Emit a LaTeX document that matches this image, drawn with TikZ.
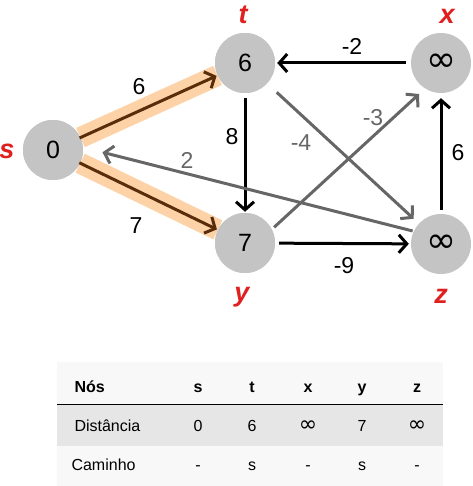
\documentclass[tikz,border=0pt]{standalone}
\usepackage{fontspec}
\setmainfont{Liberation Sans}
\newfontfamily\symfont{DejaVu Sans}
\usetikzlibrary{arrows.meta}
\definecolor{nodegray}{HTML}{C4C4C4}
\definecolor{edgegray}{HTML}{666666}
\definecolor{hl}{HTML}{FDD2A7}
\definecolor{brownarr}{HTML}{5A2D0A}
\definecolor{lblred}{HTML}{E0201E}
\definecolor{rowgray}{HTML}{E6E6E6}
\definecolor{rowlight}{HTML}{F8F8F8}
\tikzset{
  vert/.style={circle,fill=nodegray,minimum size=60pt,inner sep=0pt,font=\fontsize{25}{25}\selectfont},
  inf/.style={font=\symfont\fontsize{36}{36}\selectfont},
  vlabel/.style={text=lblred,font=\fontsize{27}{27}\selectfont\bfseries\itshape},
  arr/.style={line width=3pt,-{Straight Barb[length=8pt,width=18pt,line width=3pt]}},
  blk/.style={arr,black},
  gry/.style={arr,edgegray},
  brn/.style={arr,brownarr},
  hilite/.style={line width=21pt,hl},
  elbl/.style={font=\fontsize{23}{23}\selectfont},
  glbl/.style={elbl,text=edgegray},
  cell/.style={font=\fontsize{16}{16}\selectfont,anchor=base},
  hcell/.style={font=\fontsize{16}{16}\selectfont\bfseries,anchor=base},
  lcell/.style={font=\fontsize{16}{16}\selectfont,anchor=base west},
  tinf/.style={cell,font=\symfont\fontsize{22}{22}\selectfont}
}
\begin{document}
\begin{tikzpicture}[x=1pt,y=-1pt]
\useasboundingbox (0,0) rectangle (472,486);
% vertices
\node[vert] (s) at (53,150) {0};
\node[vert] (t) at (245,63) {6};
\node[vert,inf] (x) at (441,63) {∞};
\node[vert] (y) at (245,243) {7};
\node[vert,inf] (z) at (441,244) {∞};
\node[vlabel] (ls) at (7,151) {s};
\node[vlabel] (lt) at (243,15) {t};
\node[vlabel] (lx) at (447,16) {x};
\node[vlabel] (ly) at (242,297) {y};
\node[vlabel] (lz) at (441,296) {z};
% highlights
\draw[hilite] (s) -- (t);
\draw[hilite] (s) -- (y);
\node[vert] at (s) {0};
\node[vert] at (t) {6};
\node[vert] at (y) {7};
% edges
\draw[brn,shorten <=-1pt,shorten >=1pt] (s) -- (t);
\draw[brn,shorten <=-1pt,shorten >=1pt] (s) -- (y);
\draw[blk,shorten <=5pt,shorten >=1pt] (t) -- (y);
\draw[blk,shorten <=5pt,shorten >=2pt] (x) -- (t);
\draw[blk,shorten <=4pt,shorten >=5pt] (z) -- (x);
\draw[blk,shorten <=4pt,shorten >=2pt] (y) -- (z);
\draw[gry,shorten <=13pt,shorten >=7pt] (t) -- (z);
\draw[gry,shorten <=3pt,shorten >=8pt] (y.27) -- (x.238);
\draw[gry,shorten <=1pt,shorten >=20pt] (z.155) -- (s.5);
% edge labels
\node[elbl] (e1) at (139,87) {6};
\node[elbl] (e2) at (136,226) {7};
\node[elbl] (e3) at (232,137) {8};
\node[elbl] (e4) at (352,46) {-2};
\node[elbl] (e5) at (458,153) {6};
\node[elbl] (e6) at (344,266) {-9};
\node[glbl] (e7) at (301,143) {-4};
\node[glbl] (e8) at (373,118) {-3};
\node[glbl] (e9) at (187,160) {2};
% table
\fill[rowlight] (57,362) rectangle (443,486);
\fill[rowgray] (57,405) rectangle (443,446);
\draw[line width=1pt] (57,404.5) -- (443,404.5);
\node[lcell,font=\fontsize{16}{16}\selectfont\bfseries] (h0) at (71,392) {Nós};
\node[hcell] (h1) at (198,392) {s};
\node[hcell] (h2) at (252,392) {t};
\node[hcell] (h3) at (308,392) {x};
\node[hcell] (h4) at (362,392) {y};
\node[hcell] (h5) at (417,392) {z};
\node[lcell] (d0) at (71,431) {Distância};
\node[cell] (d1) at (198,431) {0};
\node[cell] (d2) at (252,431) {6};
\node[tinf] (d3) at (308,431) {∞};
\node[cell] (d4) at (362,431) {7};
\node[tinf] (d5) at (417,431) {∞};
\node[lcell] (c0) at (68,470) {Caminho};
\node[cell] (c1) at (198,470) {-};
\node[cell] (c2) at (252,470) {s};
\node[cell] (c3) at (308,470) {-};
\node[cell] (c4) at (362,470) {s};
\node[cell] (c5) at (417,470) {-};
\end{tikzpicture}
\end{document}
